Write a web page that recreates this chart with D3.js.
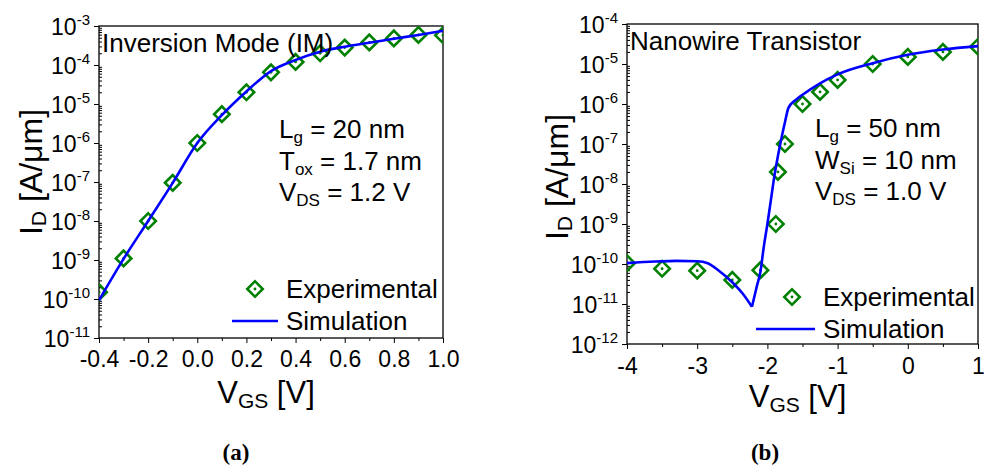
<!DOCTYPE html>
<html>
<head>
<meta charset="utf-8">
<script src="https://cdn.jsdelivr.net/npm/d3@7"></script>
<style>
  body { margin: 0; background: #fff; }
  svg { display: block; font-family: "Liberation Sans", Arial, sans-serif; }
</style>
</head>
<body>
<svg id="chart" width="984" height="474"></svg>
<script>
// ---- panel (a): inversion mode ----
const imVgs = [-0.4, -0.3, -0.2, -0.1, 0.0, 0.1, 0.2, 0.3, 0.4, 0.5, 0.6, 0.7, 0.8, 0.9, 1.0];
const imExp = [1.5e-10, 1.1e-9, 1e-8, 9.5e-8, 1e-6, 5.5e-6, 2e-5, 6.5e-5, 1.2e-4, 2e-4, 2.8e-4, 3.8e-4, 4.8e-4, 5.9e-4, 5.8e-4];
const imSimVgs = [-0.4, -0.3, -0.2, -0.1, 0.0, 0.1, 0.2, 0.3, 0.4, 0.5, 0.6, 0.7, 0.8, 0.9, 1.0];
const imSim = [9.3e-11, 1.07e-9, 1e-8, 9.5e-8, 1e-6, 5.2e-6, 2.1e-5, 7e-5, 1.35e-4, 2.2e-4, 2.95e-4, 3.7e-4, 4.7e-4, 5.9e-4, 7.5e-4];
const imXTicks = [-0.4, -0.2, 0.0, 0.2, 0.4, 0.6, 0.8, 1.0];
const imYExp = [-3, -4, -5, -6, -7, -8, -9, -10, -11];

// ---- panel (b): nanowire transistor ----
const nwVgs = [-4, -3.5, -3, -2.5, -2.1, -1.88, -1.85, -1.75, -1.5, -1.25, -1, -0.5, 0, 0.5, 1];
const nwExp = [1.05e-10, 7.6e-11, 6.8e-11, 4e-11, 7e-11, 1e-9, 2e-8, 1e-7, 1e-6, 2e-6, 4e-6, 1e-5, 1.5e-5, 2e-5, 2.7e-5];
const nwSimVgs = [-4, -3.6, -3.3, -3.0, -2.85, -2.7, -2.5, -2.35, -2.22, -2.15, -2.1, -2.05, -2.0, -1.95, -1.9, -1.85, -1.8, -1.75, -1.7, -1.6, -1.5, -1.25, -1.0, -0.5, 0, 0.5, 1.0];
const nwSim = [1.05e-10, 1.15e-10, 1.2e-10, 1.17e-10, 1.05e-10, 7e-11, 3.5e-11, 1.8e-11, 8.5e-12, 2.8e-11, 6.3e-11, 2.8e-10, 1e-9, 4e-9, 1.6e-8, 5e-8, 1.4e-7, 3.5e-7, 8e-7, 1.25e-6, 1.7e-6, 3.3e-6, 5.5e-6, 1.05e-5, 1.7e-5, 2.3e-5, 2.8e-5];
const nwXTicks = [-4, -3, -2, -1, 0, 1];
const nwYExp = [-4, -5, -6, -7, -8, -9, -10, -11, -12];

const green = "#008000", blue = "#0000ff";
const svg = d3.select("#chart");

function panel(o) {
  const x = d3.scaleLinear().domain(o.xDomain).range([o.left, o.right]);
  const y = d3.scaleLog().domain(o.yDomain).range([o.bottom, o.top]);
  const g = svg.append("g");
  const id = "clip" + o.key;
  g.append("clipPath").attr("id", id).append("rect")
    .attr("x", o.left).attr("y", o.top).attr("width", o.right - o.left).attr("height", o.bottom - o.top);

  // x axis, major + minor
  g.append("g").attr("transform", `translate(0,${o.bottom})`)
    .call(d3.axisBottom(x).tickValues(o.xMinor).tickSize(3).tickFormat(""))
    .call(a => a.select(".domain").remove());
  g.append("g").attr("transform", `translate(0,${o.bottom})`)
    .call(d3.axisBottom(x).tickValues(o.xTicks).tickSize(5).tickPadding(o.xPad).tickFormat(o.xFmt))
    .call(a => a.select(".domain").remove())
    .call(a => a.selectAll("text").attr("font-size", 23).attr("fill", "#000")
      .attr("font-family", "Liberation Sans, Arial, sans-serif"));

  // y axis, major + log minor (inward)
  const yMajor = o.yExp.map(e => Math.pow(10, e));
  const yMinor = [];
  o.yExp.forEach(e => { for (let k = 2; k <= 9; k++) { const v = k * Math.pow(10, e); if (v < o.yDomain[1]) yMinor.push(v); } });
  g.append("g").attr("transform", `translate(${o.left},0)`)
    .call(d3.axisRight(y).tickValues(yMinor).tickSize(3).tickFormat(""))
    .call(a => a.select(".domain").remove());
  g.append("g").attr("transform", `translate(${o.left},0)`)
    .call(d3.axisLeft(y).tickValues(yMajor).tickSize(5).tickFormat(""))
    .call(a => a.select(".domain").remove())
    .call(a => a.selectAll(".tick").each(function(d) {
      const t = d3.select(this).append("text").attr("x", -9).attr("y", 8)
        .attr("text-anchor", "end").attr("fill", "#000").attr("font-size", 23)
        .attr("font-family", "Liberation Sans, Arial, sans-serif");
      t.append("tspan").text("10");
      t.append("tspan").attr("font-size", 15).attr("dy", -10).text(String(Math.round(Math.log10(d))));
    }));

  // frame
  g.append("rect").attr("x", o.left).attr("y", o.top).attr("width", o.right - o.left)
    .attr("height", o.bottom - o.top).attr("fill", "none").attr("stroke", "#000").attr("stroke-width", 1.3);

  const plot = g.append("g").attr("clip-path", `url(#${id})`);
  const sym = d3.symbol(d3.symbolSquare, 120);
  const pts = o.vgs.map((v, i) => [v, o.exp[i]]);
  const mk = plot.selectAll("g.mk").data(pts).join("g").attr("class", "mk")
    .attr("transform", d => `translate(${x(d[0])},${y(d[1])})`);
  mk.append("path").attr("d", sym).attr("transform", "rotate(45)")
    .attr("fill", "none").attr("stroke", green).attr("stroke-width", 2.6);
  mk.append("circle").attr("r", 1.4).attr("fill", green);

  const line = d3.line().x(d => x(d[0])).y(d => y(d[1])).curve(d3.curveMonotoneX);
  const sim = o.simVgs.map((v, i) => [v, o.sim[i]]);
  // split at the minimum so the dip keeps its sharp corner
  let iMin = d3.minIndex(sim, d => d[1]);
  const parts = (iMin > 0 && iMin < sim.length - 1) ? [sim.slice(0, iMin + 1), sim.slice(iMin)] : [sim];
  parts.forEach(p => plot.append("path").attr("d", line(p)).attr("fill", "none")
    .attr("stroke", blue).attr("stroke-width", 2.6).attr("stroke-linejoin", "round"));

  // annotations
  g.append("text").attr("x", o.left + 3).attr("y", o.top + 26).attr("font-size", 26).text(o.title);
  o.notes.forEach((n, i) => {
    const t = g.append("text").attr("x", o.noteX).attr("y", o.noteY + i * 31.5).attr("font-size", 26);
    t.append("tspan").text(n[0]);
    t.append("tspan").attr("font-size", 17).attr("dy", 5).text(n[1]);
    t.append("tspan").attr("dy", -5).text(n[2]);
  });

  // legend
  const lg = g.append("g");
  const lm = lg.append("g").attr("transform", `translate(${o.legX - 31},${o.legY})`);
  lm.append("path").attr("d", sym).attr("transform", "rotate(45)").attr("fill", "none")
    .attr("stroke", green).attr("stroke-width", 2.6);
  lm.append("circle").attr("r", 1.4).attr("fill", green);
  lg.append("text").attr("x", o.legX).attr("y", o.legY + 9).attr("font-size", 26).text("Experimental");
  lg.append("line").attr("x1", o.legX - o.legLine).attr("x2", o.legX - 8)
    .attr("y1", o.legY + 32).attr("y2", o.legY + 32).attr("stroke", blue).attr("stroke-width", 2.6);
  lg.append("text").attr("x", o.legX).attr("y", o.legY + 41).attr("font-size", 26).text("Simulation");

  // axis titles
  const yt = g.append("text").attr("transform", `translate(${o.yTitleX},${o.yTitleY}) rotate(-90)`)
    .attr("text-anchor", "middle").attr("font-size", 32);
  yt.append("tspan").text("I");
  yt.append("tspan").attr("font-size", 21).attr("dy", 4).text("D");
  yt.append("tspan").attr("dy", -4).text(" [A/\u03bcm]");
  const xt = g.append("text").attr("x", (o.left + o.right) / 2 - 5).attr("y", o.xTitleY)
    .attr("text-anchor", "middle").attr("font-size", 31);
  xt.append("tspan").text("V");
  xt.append("tspan").attr("font-size", 21).attr("dy", 5).text("GS");
  xt.append("tspan").attr("dy", -5).text(" [V]");

  // caption
  svg.append("text").attr("x", o.capX).attr("y", 460).attr("text-anchor", "middle")
    .attr("font-family", "Liberation Serif, serif").attr("font-weight", "bold").attr("font-size", 23)
    .text(o.cap);
}

panel({
  key: "a", left: 99, right: 443, top: 26, bottom: 338,
  xDomain: [-0.4, 1.0], yDomain: [1e-11, 1e-3],
  xTicks: imXTicks, xMinor: d3.range(-3, 10, 2).map(v => v / 10), xPad: 8,
  xFmt: d => d.toFixed(1), yExp: imYExp,
  vgs: imVgs, exp: imExp, simVgs: imSimVgs, sim: imSim,
  title: "Inversion Mode (IM)",
  notes: [["L", "g", " = 20 nm"], ["T", "ox", " = 1.7 nm"], ["V", "DS", " = 1.2 V"]],
  noteX: 279, noteY: 138,
  legX: 286, legY: 289, legLine: 54,
  yTitleX: 42, yTitleY: 172, xTitleY: 403,
  capX: 236, cap: "(a)"
});

panel({
  key: "b", left: 627, right: 978, top: 24, bottom: 344,
  xDomain: [-4, 1], yDomain: [1e-12, 1e-4],
  xTicks: nwXTicks, xMinor: [-3.5, -2.5, -1.5, -0.5, 0.5], xPad: 9,
  xFmt: d => String(d), yExp: nwYExp,
  vgs: nwVgs, exp: nwExp, simVgs: nwSimVgs, sim: nwSim,
  title: "Nanowire Transistor",
  notes: [["L", "g", " = 50 nm"], ["W", "Si", " = 10 nm"], ["V", "DS", " = 1.0 V"]],
  noteX: 815, noteY: 137,
  legX: 823, legY: 297, legLine: 67,
  yTitleX: 568, yTitleY: 177, xTitleY: 407,
  capX: 765, cap: "(b)"
});
</script>
</body>
</html>
